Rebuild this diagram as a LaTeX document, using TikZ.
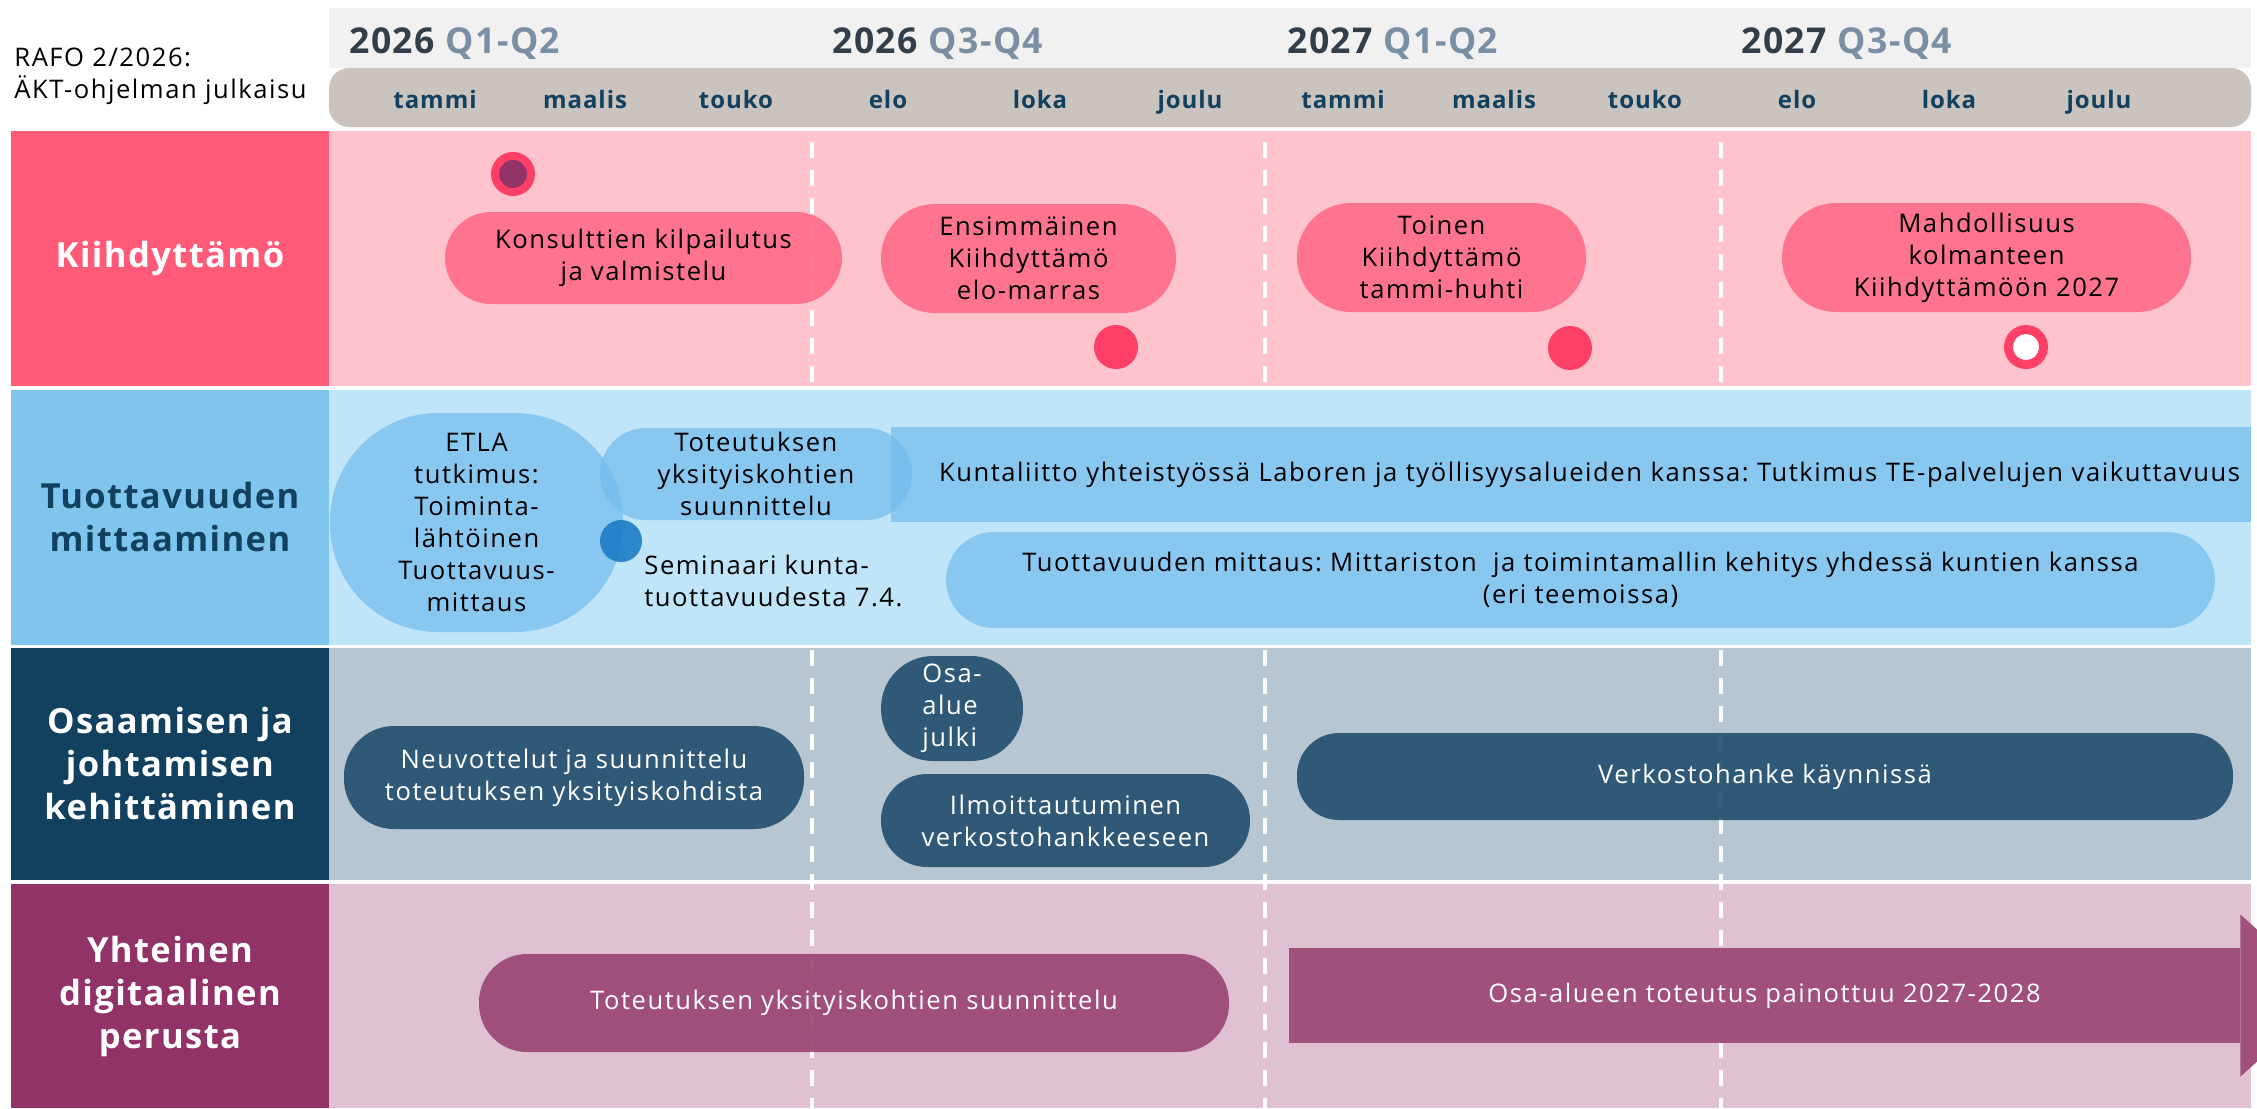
\documentclass[tikz,border=0pt]{standalone}
\usepackage{fontspec}
\setmainfont[LetterSpace=6, BoldFeatures={LetterSpace=4}]{Open Sans}
\usepackage{xcolor}
\usetikzlibrary{positioning, calc}

\definecolor{kiihead}{HTML}{FF5A78}
\definecolor{kiibody}{HTML}{FEC3CD}
\definecolor{kiipill}{HTML}{FF6C89}
\definecolor{kiidot}{HTML}{FF4066}
\definecolor{kiiinner}{HTML}{943366}
\definecolor{tuohead}{HTML}{7FC6EE}
\definecolor{tuobody}{HTML}{C0E4F8}
\definecolor{tuopill}{HTML}{71BDED}
\definecolor{tuodot}{HTML}{1C7CC6}
\definecolor{navy}{HTML}{12405F}
\definecolor{osabody}{HTML}{B8C6D1}
\definecolor{osapill}{HTML}{214E6E}
\definecolor{yhthead}{HTML}{913366}
\definecolor{yhtbody}{HTML}{DFC1D1}
\definecolor{yhtpill}{HTML}{994370}
\definecolor{yhtarrow}{HTML}{A0507A}
\definecolor{headgrey}{HTML}{F1F1F1}
\definecolor{monthband}{HTML}{CBC3BD}
\definecolor{yeardark}{HTML}{323F4B}
\definecolor{quarter}{HTML}{7A8FA3}

\begin{document}
\frenchspacing
\begin{tikzpicture}[x=0.5pt, y=-0.5pt,
        every node/.style={font=\fontsize{12.8}{16}\selectfont, align=center, inner sep=0pt},
        rowhead/.style={font=\bfseries\fontsize{17.3}{21.5}\selectfont, text=white, minimum width=159pt},
        month/.style={font=\bfseries\fontsize{12}{14}\selectfont, text=navy, anchor=base},
        year/.style={font=\bfseries\fontsize{17.8}{20}\selectfont, text=yeardark, anchor=base west},
        pill/.style={fill opacity=0.9, text opacity=1},
        kpill/.style={pill, fill=kiipill, rounded corners=27pt},
        tpill/.style={fill=tuopill, fill opacity=0.7, text opacity=1},
        opill/.style={pill, fill=osapill, text=white},
        ypill/.style={pill, fill=yhtpill, text=white},
        gridline/.style={white, line width=2pt, dash pattern=on 8pt off 6pt}]

        \useasboundingbox (0,0) rectangle (2257,1108);
        \clip (0,0) rectangle (2257,1108);

        % header
        \fill[headgrey] (329,8) rectangle (2251,68);
        \fill[monthband, rounded corners=10pt] (329,68) rectangle (2251,127);
        \node[anchor=west, align=left] (rafo) at (14,76) {RAFO 2/2026:\\ÄKT-ohjelman julkaisu};

        \node[year] (y26a) at (349,53)  {2026 \textcolor{quarter}{Q1-Q2}};
        \node[year] (y26b) at (832,53)  {2026 \textcolor{quarter}{Q3-Q4}};
        \node[year] (y27a) at (1287,53) {2027 \textcolor{quarter}{Q1-Q2}};
        \node[year] (y27b) at (1741,53) {2027 \textcolor{quarter}{Q3-Q4}};

        \node[month] (tammi1)  at (435,108)  {tammi};
        \node[month] (maalis1) at (585,108)  {maalis};
        \node[month] (touko1)  at (736,108)  {touko};
        \node[month] (elo1)    at (888,108)  {elo};
        \node[month] (loka1)   at (1040,108) {loka};
        \node[month] (joulu1)  at (1190,108) {joulu};
        \node[month] (tammi2)  at (1343,108) {tammi};
        \node[month] (maalis2) at (1494,108) {maalis};
        \node[month] (touko2)  at (1645,108) {touko};
        \node[month] (elo2)    at (1797,108) {elo};
        \node[month] (loka2)   at (1949,108) {loka};
        \node[month] (joulu2)  at (2099,108) {joulu};

        % row backgrounds
        \fill[kiibody] (329,131) rectangle (2251,386);
        \fill[tuobody] (329,390) rectangle (2251,645);
        \fill[osabody] (329,648) rectangle (2251,880);
        \fill[yhtbody] (329,884) rectangle (2251,1108);

        \node[rowhead, fill=kiihead, minimum height=127.5pt] (kiih) at (170,258.5) {Kiihdyttämö};
        \node[rowhead, fill=tuohead, text=navy, minimum height=127.5pt] (tuot) at (170,517.5) {Tuottavuuden\\mittaaminen};
        \node[rowhead, fill=navy, minimum height=116pt] (osaa) at (170,764) {Osaamisen ja\\johtamisen\\kehittäminen};
        \node[rowhead, fill=yhthead, minimum height=112pt] (yhte) at (170,996) {Yhteinen\\digitaalinen\\perusta};

        % half-year lines
        \draw[gridline] (812,142) -- (812,386);
        \draw[gridline] (1265,142) -- (1265,386);
        \draw[gridline] (1721,142) -- (1721,386);
        \draw[gridline] (812,650) -- (812,1108);
        \draw[gridline] (1265,650) -- (1265,1108);
        \draw[gridline] (1721,650) -- (1721,1108);

        % Kiihdyttämö
        \node[circle, fill=kiidot, minimum size=22pt] (julkaisu) at (513,174) {};
        \node[circle, fill=kiiinner, minimum size=14pt] (julkaisuin) at (julkaisu) {};
        \node[kpill, minimum width=198.5pt, minimum height=46pt, rounded corners=23pt] (konsult) at (643.5,258) {Konsulttien kilpailutus\\ja valmistelu};
        \node[kpill, minimum width=147.5pt, minimum height=54.5pt] (ensim) at (1028.5,258.5) {Ensimmäinen\\Kiihdyttämö\\elo-marras};
        \node[kpill, minimum width=144.5pt, minimum height=54.5pt] (toinen) at (1441.5,257.5) {Toinen\\Kiihdyttämö\\tammi-huhti};
        \node[kpill, minimum width=204.5pt, minimum height=54.5pt] (mahd) at (1986.5,257.5) {Mahdollisuus\\kolmanteen\\Kiihdyttämöön 2027};
        \node[circle, fill=kiidot, minimum size=22pt] (ensimdot) at (1116,347) {};
        \node[circle, fill=kiidot, minimum size=22pt] (toinendot) at (1570,348) {};
        \node[circle, fill=kiidot, minimum size=22pt] (mahddot) at (2026,347) {};
        \node[circle, fill=white, minimum size=13pt] (mahddotin) at (mahddot) {};

        % Tuottavuuden mittaaminen
        \node[tpill, minimum width=146.5pt, minimum height=109.5pt, rounded corners=54pt] (etla) at (476.5,522.5) {ETLA\\tutkimus:\\Toiminta-\\lähtöinen\\Tuottavuus-\\mittaus};
        \node[tpill, text width=669pt, inner xsep=5.5pt, minimum height=47.5pt, align=right] (kunta) at (1571,474.5) {Kuntaliitto yhteistyössä Laboren ja työllisyysalueiden kanssa: Tutkimus TE-palvelujen vaikuttavuus};
        \node[tpill, minimum width=156pt, minimum height=46pt, rounded corners=23pt] (toteut) at (756,474) {Toteutuksen\\yksityiskohtien\\suunnittelu};
        \node[circle, fill=tuodot, fill opacity=0.9, minimum size=21pt] (semdot) at (621,541) {};
        \node[anchor=west, align=left] (seminaari) at (644,581) {Seminaari kunta-\\tuottavuudesta 7.4.};
        \node[tpill, minimum width=634.5pt, minimum height=48pt, rounded corners=24pt] (mittaus) at (1580.5,580) {Tuottavuuden mittaus: Mittariston \ ja toimintamallin kehitys yhdessä kuntien kanssa\\(eri teemoissa)};

        % Osaamisen ja johtamisen kehittäminen
        \node[opill, minimum width=230pt, minimum height=51.5pt, rounded corners=25pt] (neuvot) at (574,777.5) {Neuvottelut ja suunnittelu\\toteutuksen yksityiskohdista};
        \node[opill, minimum width=71pt, minimum height=52.5pt, rounded corners=26pt, align=left] (osaalue) at (952,708.5) {Osa-\\alue\\julki};
        \node[opill, minimum width=184.5pt, minimum height=46.5pt, rounded corners=23pt] (ilmo) at (1065.5,820.5) {Ilmoittautuminen\\verkostohankkeeseen};
        \node[opill, minimum width=468pt, minimum height=43.5pt, rounded corners=21pt] (verkosto) at (1765,776.5) {Verkostohanke käynnissä};

        % Yhteinen digitaalinen perusta
        \node[ypill, minimum width=375pt, minimum height=49pt, rounded corners=24pt] (toteutus) at (854,1003) {Toteutuksen yksityiskohtien suunnittelu};
        \node[fill=yhtarrow, text=white, minimum width=475.5pt, minimum height=47.5pt] (painottuu) at (1764.5,995.5) {Osa-alueen toteutus painottuu 2027-2028};
        \fill[yhtarrow] (painottuu.north east) ++(0,-33) -- ++(90,81) -- ++(-90,81) -- cycle;
      \end{tikzpicture}
\end{document}
